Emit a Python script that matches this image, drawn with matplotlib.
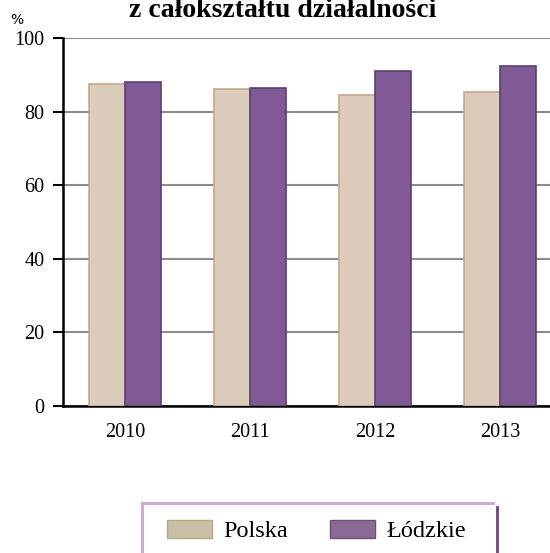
import matplotlib.pyplot as plt
import numpy as np
from matplotlib.patches import Patch
from matplotlib.lines import Line2D

lata = ['2010', '2011', '2012', '2013']
polska = [87.5, 86.1, 84.6, 85.4]
lodzkie = [88.0, 86.3, 91.1, 92.4]
yticks = [0, 20, 40, 60, 80, 100]

plt.rcParams['font.family'] = ['Liberation Serif', 'DejaVu Serif']

W, H = 550, 553
fig = plt.figure(figsize=(W / 100, H / 100), dpi=100)

# oś wychodzi poza prawą krawędź rysunku
ax = fig.add_axes([62.5 / W, (H - 406) / H, 500 / W, 368 / H])

x = np.arange(len(lata))
w = 0.288
ax.bar(x - w / 2, polska, w, color='#dccbba', edgecolor='#c6a88a', linewidth=1.2, zorder=3)
ax.bar(x + w / 2, lodzkie, w, color='#7f5a96', edgecolor='#5d3f70', linewidth=1.2, zorder=3)

ax.set_xlim(-0.5, 3.5)
ax.set_ylim(0, 100)
ax.set_yticks(yticks)
ax.set_xticks(x)
ax.set_xticklabels(lata)
ax.tick_params(axis='y', length=7, width=1.5, labelsize=14.5, pad=6)
ax.tick_params(axis='x', length=0, labelsize=14.5, pad=12)
ax.yaxis.grid(True, color='#8c8c8c', linewidth=1.5, zorder=0)
for s in ['top', 'right']:
    ax.spines[s].set_visible(False)
ax.spines['left'].set_linewidth(1.8)
ax.spines['bottom'].set_linewidth(1.8)

fig.text(17 / W, 1 - 20 / H, '%', family='DejaVu Sans', fontsize=10, ha='center', va='center')
fig.text(283 / W, 1 - 17 / H, 'z całokształtu działalności', fontsize=20,
         fontweight='bold', ha='center', va='baseline')

# legenda bez ramki, ramkę rysujemy liniami
handles = [Patch(facecolor='#c8bfa6', edgecolor='#b5a985', label='Polska'),
           Patch(facecolor='#8a6a94', edgecolor='#6e5078', label='Łódzkie')]
fig.legend(handles=handles, loc='center left', bbox_to_anchor=(167 / W, 1 - 531 / H),
           ncol=2, fontsize=17.5, frameon=False, handlelength=1.85,
           handleheight=0.82, columnspacing=1.75, borderpad=0, handletextpad=0.45,
           borderaxespad=0)
pink = '#d4a8d0'
fig.add_artist(Line2D([142 / W, 493 / W], [1 - 503 / H] * 2, color=pink, linewidth=2.2))
fig.add_artist(Line2D([142 / W] * 2, [0, 1 - 503 / H], color=pink, linewidth=2.2))
fig.add_artist(Line2D([497 / W] * 2, [0, 1 - 507 / H], color='#6b4a76', linewidth=2))

fig.savefig('out.png', dpi=100)
